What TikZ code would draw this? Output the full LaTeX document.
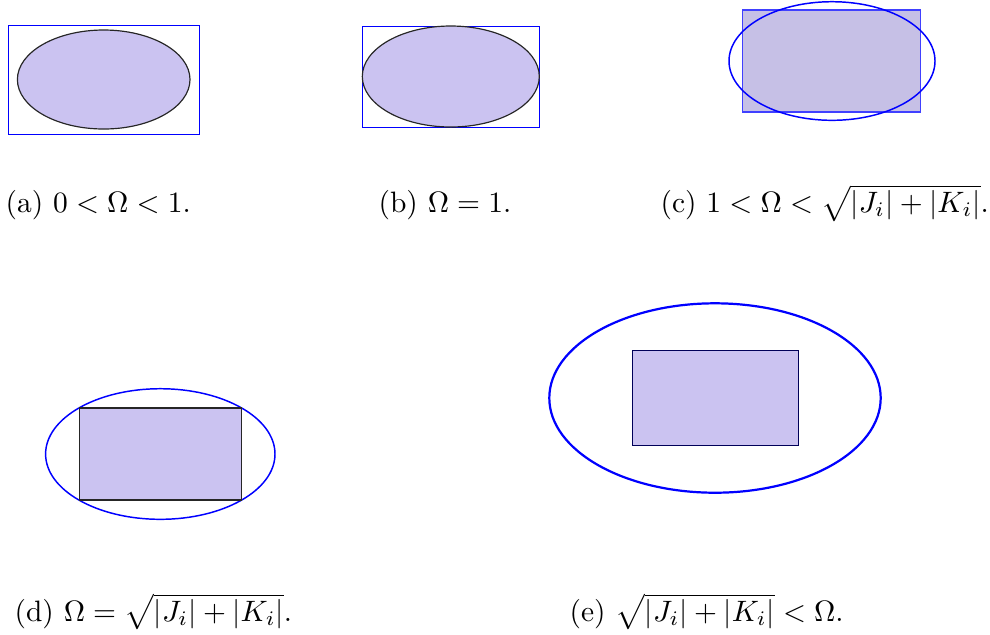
\documentclass[tikz,border=0pt]{standalone}
\usepackage{amsmath,amssymb}
\usepackage{tikz}
\usetikzlibrary{positioning}
\usepackage{xcolor}
\definecolor{regionfill}{RGB}{203,195,241}
\definecolor{overlapfill}{RGB}{198,192,230}
\begin{document}
\begin{tikzpicture}[
    x=0.339pt, y=-0.339pt,
    box/.style={draw=blue, line width=0.3pt},
    boxlight/.style={draw=blue!75, line width=0.4pt},
    region/.style={fill=regionfill, draw=black!85, line width=0.4pt},
    orbit/.style={draw=blue, line width=0.5pt},
    caption/.style={anchor=base west, inner sep=0pt}
]
\useasboundingbox (0,0) rectangle (990,634);

% (a) 楕円が矩形の内側
\draw[box] (8,25) rectangle (199,134);
\draw[region] (103.7,79.5) ellipse [x radius=86.3, y radius=49.5];
\node[caption] (capA) at (5,212.5) {(a) $0 < \Omega < 1$.};

% (b) 内接
\draw[box] (362.3,26) rectangle (539.3,127);
\draw[region] (450.8,76.5) ellipse [x radius=88.5, y radius=50.5];
\node[caption] (capB) at (378,212.5) {(b) $\Omega = 1$.};

% (c) 交差
\draw[boxlight, fill=overlapfill] (742.7,10) rectangle (920.7,112);
\draw[orbit] (832,61) ellipse [x radius=103, y radius=59.3];
\node[caption] (capC) at (660,212.5) {(c) $1 < \Omega < \sqrt{|J_i| + |K_i|}$.};

% (d) 外接
\draw[orbit] (160.3,454) ellipse [x radius=114.7, y radius=65.3];
\draw[region] (79.3,408) rectangle (241.3,500);
\node[caption] (capD) at (14,621) {(d) $\Omega = \sqrt{|J_i| + |K_i|}$.};

% (e) 矩形が楕円の内側
\draw[orbit, line width=0.75pt] (715,398) ellipse [x radius=165.7, y radius=94.7];
\draw[region, draw=blue!35!black, line width=0.5pt] (632.3,350.7) rectangle (798.7,445.7);
\node[caption] (capE) at (569,621) {(e) $\sqrt{|J_i| + |K_i|} < \Omega$.};

\end{tikzpicture}
\end{document}
